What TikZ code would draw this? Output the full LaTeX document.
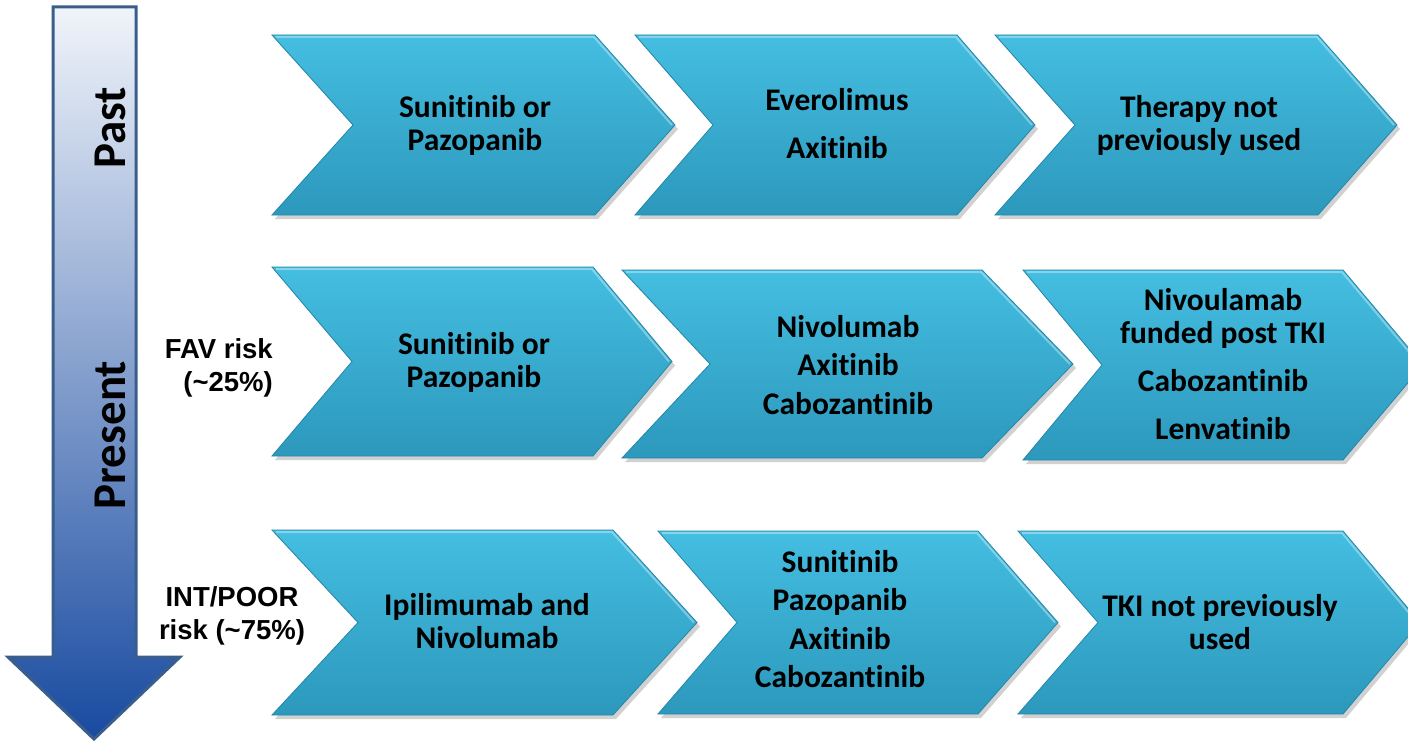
\documentclass[tikz,border=0pt]{standalone}
\usepackage{fontspec}
\setmainfont{Carlito}[Ligatures=CommonOff]
\newfontfamily\arialfont{Liberation Sans}

\definecolor{chevtop}{RGB}{68,190,225}
\definecolor{chevbot}{RGB}{44,152,188}
\definecolor{chevline}{RGB}{36,135,170}
\definecolor{timetop}{RGB}{240,244,250}
\definecolor{timemid}{RGB}{160,184,220}
\definecolor{timebot}{RGB}{24,74,160}
\definecolor{timeline}{RGB}{58,94,140}

% chevron: left x, notch x, top-right x, tip x, top y, bottom y
\newcommand{\chevron}[6]{%
  \fill[chevshadow, shift={(3,4)}] (#1,#5) -- (#3,#5) -- (#4,{(#5+#6)/2}) -- (#3,#6) -- (#1,#6) -- (#2,{(#5+#6)/2}) -- cycle;
  \path[chevbox] (#1,#5) -- (#3,#5) -- (#4,{(#5+#6)/2}) -- (#3,#6) -- (#1,#6) -- (#2,{(#5+#6)/2}) -- cycle;
  \draw[chevhi] (#1+4,#5+2) -- (#3-1,#5+2) -- (#4-3,{(#5+#6)/2});
}

\begin{document}
\begin{tikzpicture}[x=1pt,y=-1pt]
  \tikzstyle{chevbox}=[top color=chevtop, bottom color=chevbot, draw=chevline, line width=0.8pt]
  \tikzstyle{chevshadow}=[fill=black, opacity=0.18]
  \tikzstyle{chevhi}=[draw=white, opacity=0.35, line width=2pt]
  \tikzstyle{drug}=[font=\bfseries\fontsize{31.5}{33}\selectfont, align=center, inner sep=0pt]
  \tikzstyle{risk}=[font=\arialfont\bfseries\fontsize{27.5}{33}\selectfont, inner sep=0pt]
  \tikzstyle{era}=[font=\bfseries\fontsize{47}{48}\selectfont, rotate=90, inner sep=0pt]

  \useasboundingbox (0,0) rectangle (1408,741);

  % time arrow
  \path[top color=timetop, middle color=timemid, bottom color=timebot, draw=timeline, line width=3pt]
    (53,7) -- (136,7) -- (136,657) -- (180,657) -- (94,739) -- (8,657) -- (53,657) -- cycle;
  \node[era] (past) at (110,128) {Past};
  \node[era] (present) at (110,435) {Present};

  % risk groups
  \node[risk, align=right, anchor=east] (fav) at (273,368) {FAV risk\\(\textasciitilde 25\%)};
  \node[risk, align=center] (intpoor) at (232,616) {INT/POOR\\risk (\textasciitilde 75\%)};

  % past
  \chevron{272}{353}{595}{675}{35}{215}
  \chevron{635}{713}{957}{1035}{35}{215}
  \chevron{995}{1075}{1318}{1397}{35}{215}
  \node[drug] (p1) at (475,125) {Sunitinib or\\Pazopanib};
  \node[drug] (p2) at (837,124) {Everolimus\\[15pt]Axitinib};
  \node[drug] (p3) at (1199,125) {Therapy not\\previously used};

  % present, favourable
  \chevron{272}{352}{593}{672}{267}{456}
  \chevron{622}{710}{982}{1073}{270}{458}
  \chevron{1023}{1102}{1343}{1423}{270}{460}
  \node[drug] (f1) at (474,362) {Sunitinib or\\Pazopanib};
  \node[drug] (f2) at (848,365) {Nivolumab\\[5.5pt]Axitinib\\[5.5pt]Cabozantinib};
  \node[drug] (f3) at (1223,364) {Nivoulamab\\funded post TKI\\[15pt]Cabozantinib\\[15pt]Lenvatinib};

  % present, intermediate/poor
  \chevron{272}{358}{613}{697}{530}{715}
  \chevron{658}{737}{978}{1058}{531}{714}
  \chevron{1018}{1098}{1343}{1420}{531}{714}
  \node[drug] (i1) at (487,621) {Ipilimumab and\\Nivolumab};
  \node[drug] (i2) at (840,619) {Sunitinib\\[5.5pt]Pazopanib\\[5.5pt]Axitinib\\[5.5pt]Cabozantinib};
  \node[drug] (i3) at (1220,622) {TKI not previously\\used};
\end{tikzpicture}
\end{document}
